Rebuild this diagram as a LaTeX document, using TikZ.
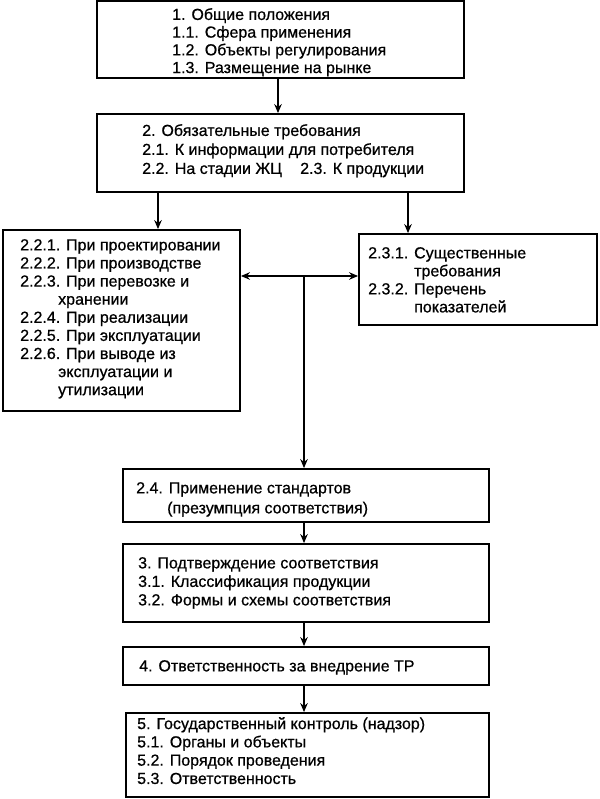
\documentclass[tikz,border=0pt]{standalone}
\usepackage{fontspec}
\setmainfont[FakeBold=0.7]{Liberation Sans}
\usetikzlibrary{arrows.meta}
\newcommand{\fsz}[1]{\fontsize{16}{#1}\selectfont}
\begin{document}
\begin{tikzpicture}[x=1pt,y=-1pt,
  box/.style={draw, line width=1.8pt, inner sep=0pt},
  txt/.style={anchor=north west, inner sep=0pt, align=left},
  arr/.style={line width=1.7pt, -{Stealth[length=9pt,width=7.5pt]}}]
\useasboundingbox[fill=white] (0,0) rectangle (599,799);
% boxes
\node[box, minimum width=367pt, minimum height=77pt] (b1) at (280.5,39.5) {};
\node[box, minimum width=367pt, minimum height=78pt] (b2) at (280.5,153) {};
\node[box, minimum width=237pt, minimum height=181pt] (b22) at (121.5,320.5) {};
\node[box, minimum width=238pt, minimum height=91pt] (b23) at (478,279.5) {};
\node[box, minimum width=366pt, minimum height=53pt] (b24) at (306,495.5) {};
\node[box, minimum width=366pt, minimum height=78pt] (b3) at (306,583) {};
\node[box, minimum width=366pt, minimum height=38pt] (b4) at (306,666) {};
\node[box, minimum width=363pt, minimum height=84pt] (b5) at (307.5,755) {};
% texts
\node[txt, font=\fsz{17.7}] (t1) at (172,8) {1. Общие положения\\1.1. Сфера применения\\1.2. Объекты регулирования\\1.3. Размещение на рынке};
\node[txt, font=\fsz{19}] (t2) at (142,124) {2. Обязательные требования\\2.1. К информации для потребителя\\\makebox[158pt][l]{2.2. На стадии ЖЦ}2.3. К продукции};
\node[txt, font=\fsz{18.1}] (t22) at (20,239) {2.2.1. При проектировании\\2.2.2. При производстве\\2.2.3. При перевозке и\\\hspace*{38pt}хранении\\2.2.4. При реализации\\2.2.5. При эксплуатации\\2.2.6. При выводе из\\\hspace*{38pt}эксплуатации и\\\hspace*{38pt}утилизации};
\node[txt, font=\fsz{18}] (t23) at (368,247) {2.3.1. Существенные\\\hspace*{46pt}требования\\2.3.2. Перечень\\\hspace*{46pt}показателей};
\node[txt, font=\fsz{20}] (t24) at (136,482) {2.4. Применение стандартов\\\hspace*{31pt}(презумпция соответствия)};
\node[txt, font=\fsz{18.5}] (t3) at (138,557) {3. Подтверждение соответствия\\3.1. Классификация продукции\\3.2. Формы и схемы соответствия};
\node[txt, font=\fsz{18}] (t4) at (139,660) {4. Ответственность за внедрение ТР};
\node[txt, font=\fsz{18.3}] (t5) at (137,717) {5. Государственный контроль (надзор)\\5.1. Органы и объекты\\5.2. Порядок проведения\\5.3. Ответственность};
% connectors
\coordinate (l) at (158,0);
\coordinate (r) at (408,0);
\coordinate (j) at (304,276);
\draw[arr] ([xshift=-2.5pt]b1.south) -- ([xshift=-2.5pt]b2.north);
\draw[arr] (b2.south -| l) -- (b22.north -| l);
\draw[arr] (b2.south -| r) -- (b23.north -| r);
\draw[arr] (j) -- (j -| b22.east);
\draw[arr] (j) -- (j -| b23.west);
\draw[arr] (j) -- (j |- b24.north);
\draw[arr] (b24.south -| j) -- (b3.north -| j);
\draw[arr] (b3.south -| j) -- (b4.north -| j);
\draw[arr] (b4.south -| j) -- (b5.north -| j);
\end{tikzpicture}
\end{document}
